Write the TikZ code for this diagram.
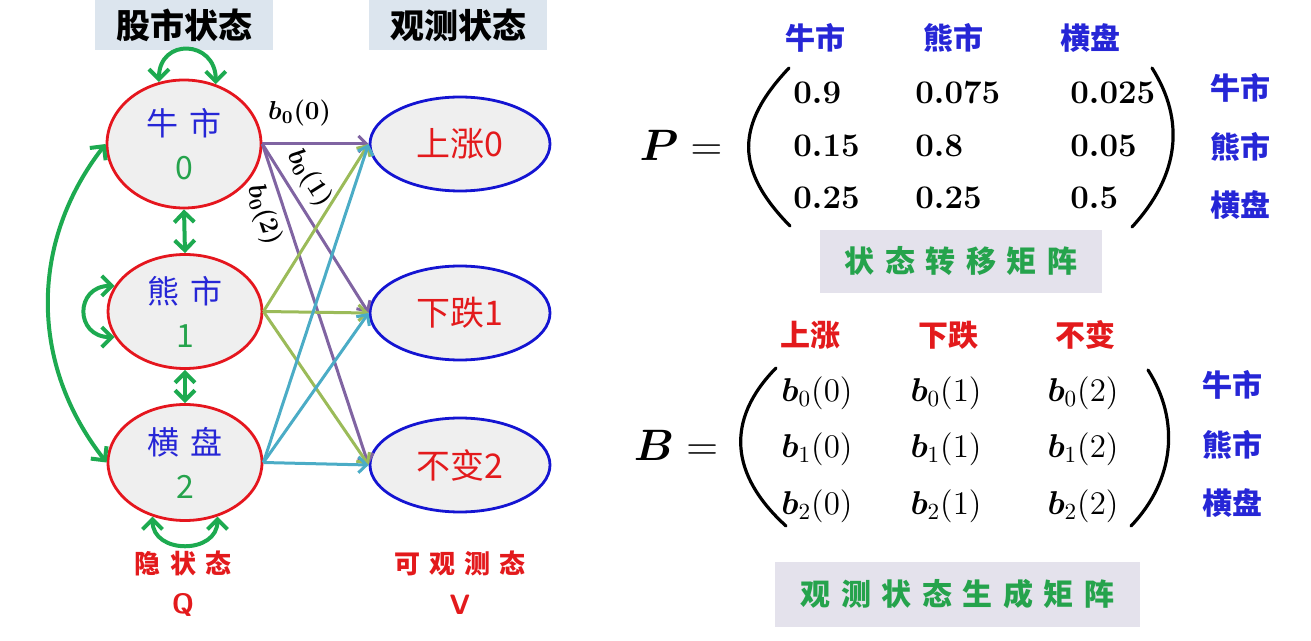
\RequirePackage{fix-cm}
\documentclass[tikz,border=0pt]{standalone}
\usepackage{amsmath,amssymb,bm}
\usepackage{fontspec}
\newfontfamily\cjk{Noto Sans CJK SC}
\usetikzlibrary{positioning,arrows.meta,shapes.geometric,calc}
\definecolor{hidred}{HTML}{E5161E}
\definecolor{obsblue}{HTML}{1414D2}
\definecolor{obsred}{HTML}{E31A1C}
\definecolor{txtblue}{HTML}{2626D6}
\definecolor{txtgreen}{HTML}{25A34C}
\definecolor{loopgreen}{HTML}{1DAA50}
\definecolor{purp}{HTML}{8064A2}
\definecolor{oliv}{HTML}{9BBB59}
\definecolor{tealc}{HTML}{4BACC6}
\definecolor{ellfill}{HTML}{EFEFEF}
\definecolor{headfill}{HTML}{DCE5EE}
\definecolor{tagfill}{HTML}{E4E2EC}
\newcommand\gap{\hspace{0.35em}}

\begin{document}
\begin{tikzpicture}[x=0.5pt, y=0.5pt,
  >={Straight Barb[length=4pt,width=8pt]},
  hid/.style={ellipse, draw=hidred, line width=1.4pt, fill=ellfill, minimum width=77pt, minimum height=57pt, inner sep=0pt, align=center, font=\cjk\fontsize{16}{22}\selectfont},
  obs/.style={ellipse, draw=obsblue, line width=1.4pt, fill=ellfill, minimum width=90pt, minimum height=47pt, inner sep=0pt, text=obsred, font=\cjk\fontsize{17}{20}\selectfont},
  head/.style={fill=headfill, minimum width=89pt, minimum height=25pt, inner sep=0pt, font=\cjk\bfseries\fontsize{17}{17}\selectfont},
  tag/.style={fill=tagfill, inner sep=0pt, text=txtgreen, font=\cjk\bfseries\fontsize{15}{15}\selectfont},
  lab/.style={font=\cjk\bfseries\fontsize{15}{15}\selectfont},
  emit/.style={->, line width=1.5pt},
  trans/.style={{Straight Barb[length=5pt,width=10pt]}-{Straight Barb[length=5pt,width=10pt]}, loopgreen, line width=2pt},
  pval/.style={anchor=west, inner sep=0pt, font=\fontsize{16.5}{16.5}\selectfont\boldmath},
  bval/.style={inner sep=0pt, font=\fontsize{16.5}{16.5}\selectfont},
  blab/.style={text=black, font=\fontsize{13}{13}\selectfont},
  paren/.style={line width=1.6pt, line cap=round}]
\useasboundingbox (0,0) rectangle (1311,-641);

% left: hidden and observed states
\node[head] (hq) at (184,-25) {股市状态};
\node[head] (hv) at (458,-25) {观测状态};
\node[hid, minimum height=64pt] (h0) at (184,-144) {\textcolor{txtblue}{牛\gap 市}\\\textcolor{txtgreen}{0}};
\node[hid] (h1) at (185,-311.5) {\textcolor{txtblue}{熊\gap 市}\\\textcolor{txtgreen}{1}};
\node[hid, minimum height=58pt] (h2) at (185,-462.5) {\textcolor{txtblue}{横\gap 盘}\\\textcolor{txtgreen}{2}};
\node[obs] (o0) at (460,-144) {上涨0};
\node[obs] (o1) at (460,-313) {下跌1};
\node[obs] (o2) at (460,-465) {不变2};
\node[lab, text=obsred, font=\cjk\bfseries\fontsize{13}{13}\selectfont] (hl) at (183,-563) {隐\gap 状\gap 态};
\node[font=\sffamily\bfseries\fontsize{14}{14}\selectfont, text=obsred] (ql) at (183,-605) {Q};
\node[lab, text=obsred, font=\cjk\bfseries\fontsize{13}{13}\selectfont] (vl) at (460,-563) {可\gap 观\gap 测\gap 态};
\node[font=\sffamily\bfseries\fontsize{14}{14}\selectfont, text=obsred] (vv) at (460,-605) {V};

\draw[trans] (h0.south) -- (h1.north);
\draw[trans] (h1.south) -- (h2.north);
\draw[trans] (h0.west) to[bend right=38] (h2.west);
\draw[trans] (h0.112) to[out=90, in=90, looseness=2] (h0.62);
\draw[trans] (h1.160) to[out=180, in=180, looseness=2] (h1.200);
\draw[trans] (h2.239) to[out=270, in=270, looseness=1.5] (h2.301);

\draw[emit, purp] (h0.east) -- node[blab, above=5pt, pos=0.35]{$\boldsymbol{b_0(0)}$} (o0.west);
\draw[emit, purp] (h0.east) -- node[blab, above, sloped, pos=0.27]{$\boldsymbol{b_0(1)}$} (o1.west);
\draw[emit, purp] (h0.east) -- node[blab, below, sloped, pos=0.2]{$\boldsymbol{b_0(2)}$} (o2.west);
\foreach \j in {0,1,2} \draw[emit, oliv] (h1.east) -- (o\j.west);
\foreach \j in {0,1,2} \draw[emit, tealc] (h2.east) -- (o\j.west);

% right: transition matrix P
\node[font=\fontsize{22}{22}\selectfont] (pe) at (681,-145) {$\boldsymbol{P}=$};
\draw[paren] (789,-68) .. controls (735,-125) and (735,-170) .. (790,-226);
\draw[paren] (1152,-68) .. controls (1185,-120) and (1180,-175) .. (1132,-227);
\foreach \t/\x [count=\i from 0] in {牛市/815,熊市/953,横盘/1090}
  \node[lab, text=txtblue] (pc\i) at (\x,-38) {\t};
\foreach \t/\y [count=\i from 0] in {牛市/-88,熊市/-147,横盘/-205}
  \node[lab, text=txtblue] (pr\i) at (1240,\y) {\t};
\foreach \a/\b/\c [count=\r from 0] in {0.9/0.075/0.025, 0.15/0.8/0.05, 0.25/0.25/0.5} {
  \node[pval] (p\r0) at (793,{-93-52.5*\r}) {$\a$};
  \node[pval] (p\r1) at (915,{-93-52.5*\r}) {$\b$};
  \node[pval] (p\r2) at (1070,{-93-52.5*\r}) {$\c$};
}
\node[tag, minimum width=141pt, minimum height=31.5pt] (pt) at (961,-261.5) {状\gap 态\gap 转\gap 移\gap 矩\gap 阵};

% right: emission matrix B
\node[font=\fontsize{22}{22}\selectfont] (be) at (676,-445) {$\boldsymbol{B}=$};
\draw[paren] (776,-368) .. controls (725,-420) and (730,-475) .. (786,-526);
\draw[paren] (1148,-370) .. controls (1180,-420) and (1175,-480) .. (1131,-526);
\foreach \t/\x [count=\i from 0] in {上涨/810,下跌/948,不变/1085}
  \node[lab, text=obsred] (bc\i) at (\x,-335) {\t};
\foreach \t/\y [count=\i from 0] in {牛市/-385,熊市/-445,横盘/-503}
  \node[lab, text=txtblue] (br\i) at (1232,\y) {\t};
\foreach \r in {0,1,2}
  \foreach \c/\x in {0/817,1/946,2/1083}
    \node[bval] (b\r\c) at (\x,{-393-56.5*\r}) {$\boldsymbol{b}_{\r}(\c)$};
\node[tag, minimum width=182.5pt, minimum height=32.5pt] (bt) at (957.5,-594.5) {观\gap 测\gap 状\gap 态\gap 生\gap 成\gap 矩\gap 阵};
\end{tikzpicture}
\end{document}
